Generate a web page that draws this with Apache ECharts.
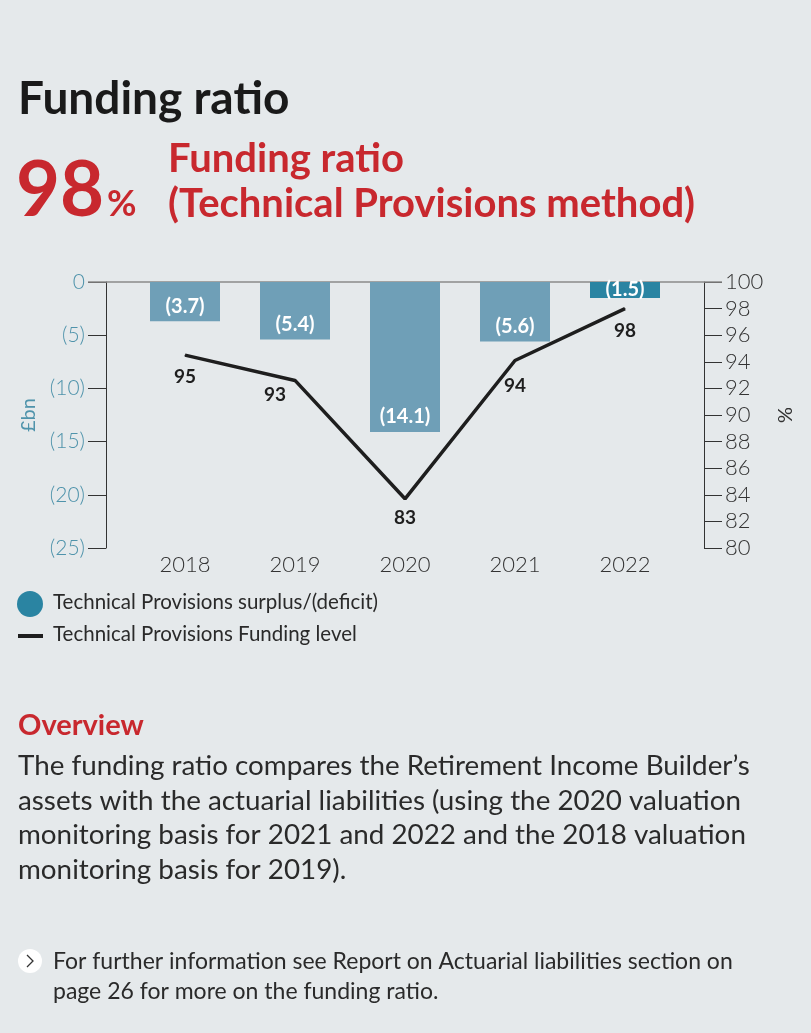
<!DOCTYPE html>
<html>
<head>
<meta charset="utf-8">
<script src="https://cdn.jsdelivr.net/npm/echarts@6/dist/echarts.min.js"></script>
<style>
html,body{margin:0;padding:0;background:#e5e9eb;}
#chart{width:811px;height:1033px;}
</style>
</head>
<body>
<div id="chart"></div>
<script>
var years = ['2018', '2019', '2020', '2021', '2022'];
var surplusDeficit = [-3.7, -5.4, -14.1, -5.6, -1.5];
var fundingLevel = [94.5, 92.6, 83.7, 94.1, 98.0];
var fundingLabels = ['95', '93', '83', '94', '98'];
var leftTicks = { min: -25, max: 0, interval: 5 };
var rightTicks = { min: 80, max: 100, interval: 2 };

var RED = '#c8282e';
var LIGHT_BAR = '#6f9fb7';
var DARK_BAR = '#2a84a2';
var TEAL_TXT = '#4f93ab';
var FONT = 'Lato, "Open Sans", sans-serif';

var chart = echarts.init(document.getElementById('chart'), null, { renderer: 'canvas' });

var labelOffsets = [[0, 0], [-20, -8], [0, -3], [0, 3], [0, 0]];

var barData = surplusDeficit.map(function (v, i) {
  var last = i === surplusDeficit.length - 1;
  var d = {
    value: v,
    itemStyle: { color: last ? DARK_BAR : LIGHT_BAR }
  };
  if (last) d.label = { position: 'inside' };
  return d;
});
var lineData = fundingLevel.map(function (v, i) {
  return { value: v, label: { formatter: fundingLabels[i], offset: labelOffsets[i] } };
});

function fmtNeg(v) { return v === 0 ? '0' : '(' + Math.abs(v) + ')'; }

var option = {
  backgroundColor: '#e5e9eb',
  animation: false,
  textStyle: { fontFamily: FONT },
  grid: { left: 130, right: 131, top: 282, bottom: 485 },
  xAxis: {
    type: 'category',
    data: years,
    axisLine: { show: false, onZero: false },
    axisTick: { show: false },
    axisLabel: { color: '#333', fontSize: 22, fontWeight: 300, margin: 6, fontFamily: FONT }
  },
  yAxis: [{
    type: 'value',
    min: leftTicks.min, max: leftTicks.max, interval: leftTicks.interval,
    position: 'left',
    offset: 24,
    name: '£bn',
    nameLocation: 'middle',
    nameGap: 66,
    nameRotate: 90,
    nameTextStyle: { color: TEAL_TXT, fontSize: 20, fontFamily: FONT },
    axisLine: { show: true, lineStyle: { color: '#333', width: 1 } },
    axisTick: { show: true, length: 18, lineStyle: { color: '#333', width: 1 } },
    axisLabel: { color: TEAL_TXT, fontSize: 21, fontWeight: 300, margin: 21, formatter: fmtNeg, fontFamily: FONT },
    splitLine: { show: false }
  }, {
    type: 'value',
    min: rightTicks.min, max: rightTicks.max, interval: rightTicks.interval,
    position: 'right',
    offset: 24,
    name: '%',
    nameLocation: 'middle',
    nameGap: 70,
    nameRotate: -90,
    nameTextStyle: { color: '#333', fontSize: 20, fontFamily: FONT },
    axisLine: { show: true, lineStyle: { color: '#333', width: 1 } },
    axisTick: { show: true, length: 18, lineStyle: { color: '#333', width: 1 } },
    axisLabel: { color: '#333', fontSize: 22, fontWeight: 300, margin: 21, fontFamily: FONT },
    splitLine: { show: false }
  }],
  series: [{
    name: 'Technical Provisions surplus/(deficit)',
    type: 'bar',
    yAxisIndex: 0,
    barWidth: 70,
    data: barData,
    itemStyle: { color: DARK_BAR },
    label: {
      show: true,
      position: 'insideBottom',
      distance: 5,
      color: '#fff',
      fontSize: 20,
      fontWeight: 'bold',
      fontFamily: FONT,
      formatter: function (p) { return fmtNeg(p.value); }
    },
    z: 2
  }, {
    name: 'Technical Provisions Funding level',
    type: 'line',
    yAxisIndex: 1,
    data: lineData,
    symbol: 'circle',
    symbolSize: 1,
    showSymbol: true,
    lineStyle: { color: '#1e1e1e', width: 3.5 },
    itemStyle: { color: '#1e1e1e' },
    label: {
      show: true,
      position: 'bottom',
      distance: 12,
      color: '#1e1e1e',
      fontSize: 19,
      fontWeight: 'bold',
      fontFamily: FONT
    },
    z: 3
  }]
};

chart.setOption(option);

var zeroY = chart.convertToPixel({ yAxisIndex: 0 }, 0);

var txt = function (x, y, s, size, color, weight, extra) {
  var o = {
    type: 'text', left: x, top: y, z: 10,
    style: { text: s, fontSize: size, fill: color, fontWeight: weight || 'normal', fontFamily: FONT }
  };
  if (extra) for (var k in extra) o.style[k] = extra[k];
  return o;
};

chart.setOption({
  graphic: [
    { type: 'line', z: 1, shape: { x1: 88, y1: zeroY, x2: 722, y2: zeroY }, style: { stroke: '#8a8a8a', lineWidth: 1.5 } },
    txt(18, 76, 'Funding ratio', 46, '#1a1a1a', 'bold'),
    txt(16, 153, '98', 76, RED, 'bold'),
    txt(107, 186, '%', 36, RED, 'bold'),
    txt(168, 139, 'Funding ratio', 40, RED, 'bold'),
    txt(168, 184, '(Technical Provisions method)', 40, RED, 'bold'),
    { type: 'circle', shape: { cx: 30, cy: 604, r: 13 }, style: { fill: DARK_BAR } },
    txt(53, 592, 'Technical Provisions surplus/(deficit)', 20.5, '#2a2a2a'),
    { type: 'rect', shape: { x: 18, y: 634, width: 25, height: 4 }, style: { fill: '#1e1e1e' } },
    txt(53, 624, 'Technical Provisions Funding level', 20.5, '#2a2a2a'),
    txt(18, 711, 'Overview', 29, RED, 'bold'),
    txt(18, 749, 'The funding ratio compares the Retirement Income Builder\u2019s\nassets with the actuarial liabilities (using the 2020 valuation\nmonitoring basis for 2021 and 2022 and the 2018 valuation\nmonitoring basis for 2019).', 27.8, '#2a2a2a', 'normal', { lineHeight: 34.5 }),
    { type: 'circle', shape: { cx: 30, cy: 961, r: 12 }, style: { fill: '#ffffff' } },
    { type: 'polyline', shape: { points: [[27, 955], [33, 961], [27, 967]] }, style: { stroke: '#333', lineWidth: 1.3, fill: null } },
    txt(53, 947, 'For further information see Report on Actuarial liabilities section on\npage 26 for more on the funding ratio.', 23, '#2a2a2a', 'normal', { lineHeight: 30 })
  ]
});
</script>
</body>
</html>
